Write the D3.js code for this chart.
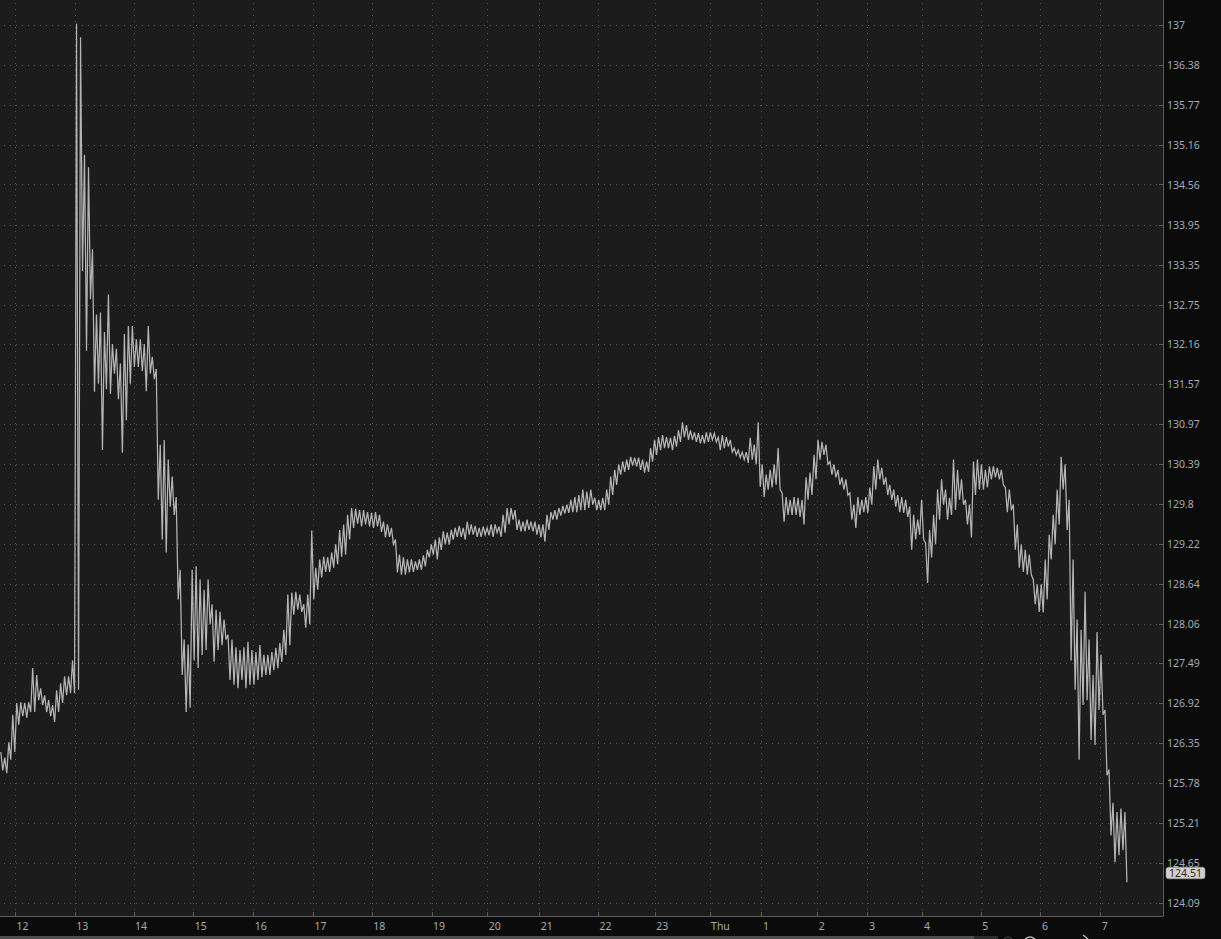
<!DOCTYPE html>
<html>
<head>
<meta charset="utf-8">
<script src="https://cdn.jsdelivr.net/npm/d3@7"></script>
<style>
html,body{margin:0;padding:0;background:#0b0b0b;overflow:hidden;}
svg{display:block;}
</style>
</head>
<body>
<svg id="chart" width="1221" height="939"></svg>
<script>
// ---- DATA (per 4px time slot: high / low price) ----
const high = [
126.22,126.14,126.36,126.75,126.92,126.93,126.92,126.93,127.42,127.32,
127.13,127.03,126.96,126.89,127.10,127.20,127.30,127.30,127.53,137.02,
136.81,135.01,134.82,133.58,132.60,132.63,132.34,132.90,132.16,132.09,
131.87,132.31,132.43,132.43,132.23,132.23,132.16,132.43,131.97,131.79,
130.67,130.74,130.45,130.20,129.90,128.84,127.83,127.76,128.84,128.89,
128.70,128.55,128.70,128.34,128.26,128.23,128.12,127.90,127.83,127.72,
127.68,127.72,127.80,127.68,127.65,127.75,127.61,127.61,127.65,127.71,
127.78,127.97,128.48,128.51,128.52,128.48,128.34,128.48,129.41,128.87,
128.99,129.03,129.02,129.09,129.21,129.42,129.50,129.64,129.74,129.73,
129.71,129.71,129.68,129.67,129.68,129.64,129.54,129.50,129.45,129.28,
129.06,129.02,128.99,128.99,128.96,128.99,129.05,129.13,129.21,129.28,
129.31,129.40,129.38,129.42,129.45,129.48,129.45,129.54,129.50,129.48,
129.45,129.47,129.45,129.50,129.50,129.47,129.64,129.74,129.74,129.71,
129.57,129.54,129.57,129.54,129.54,129.50,129.50,129.64,129.68,129.71,
129.74,129.77,129.79,129.86,129.90,129.93,130.01,129.98,130.01,129.89,
129.86,129.89,130.01,130.20,130.30,130.38,130.42,130.45,130.49,130.48,
130.48,130.45,130.42,130.62,130.74,130.78,130.81,130.78,130.77,130.80,
130.88,131.00,130.96,130.88,130.85,130.84,130.81,130.85,130.85,130.84,
130.78,130.81,130.78,130.74,130.62,130.59,130.56,130.56,130.77,130.67,
131.00,130.38,130.23,130.30,130.38,130.62,129.96,129.90,129.86,129.90,
129.89,129.86,130.19,130.26,130.52,130.74,130.71,130.67,130.42,130.38,
130.30,130.19,130.16,129.96,129.79,129.90,129.86,129.90,130.04,130.35,
130.45,130.33,130.19,130.08,130.01,129.93,129.90,129.86,129.76,129.64,
129.57,129.86,129.23,129.42,129.64,130.01,130.16,130.01,129.89,130.45,
130.30,130.16,129.86,129.79,130.42,130.45,130.38,130.30,130.35,130.35,
130.33,130.30,130.04,130.01,129.79,129.50,129.21,129.13,129.06,128.70,
128.63,128.63,128.99,129.35,129.64,130.01,130.49,130.38,129.86,128.99,
128.12,127.97,128.52,127.83,127.32,127.94,127.61,126.82,125.97,125.50,
125.37,125.42,125.37
];
const low = [
125.96,125.92,126.11,126.22,126.61,126.73,126.71,126.79,126.79,126.96,
126.89,126.79,126.73,126.65,126.79,126.92,127.03,127.06,127.06,127.11,
133.25,132.06,132.83,131.45,131.57,130.59,131.49,131.42,131.72,131.34,
130.55,131.03,131.57,131.82,131.82,131.76,131.46,131.72,131.64,129.86,
129.28,129.09,129.76,129.64,128.41,127.32,126.79,126.85,127.53,127.42,
127.61,127.68,128.05,127.51,127.68,127.75,127.83,127.25,127.18,127.13,
127.25,127.13,127.18,127.18,127.25,127.29,127.32,127.32,127.39,127.42,
127.51,127.61,127.75,128.19,128.26,128.23,128.00,128.05,128.41,128.55,
128.73,128.81,128.81,128.87,128.92,129.03,129.06,129.28,129.45,129.51,
129.47,129.50,129.47,129.45,129.47,129.39,129.31,129.32,129.21,128.80,
128.77,128.77,128.80,128.81,128.84,128.84,128.89,129.02,129.06,128.99,
129.13,129.21,129.21,129.28,129.32,129.32,129.28,129.35,129.35,129.32,
129.32,129.35,129.34,129.32,129.38,129.32,129.38,129.50,129.57,129.42,
129.40,129.40,129.42,129.40,129.35,129.31,129.25,129.42,129.57,129.57,
129.63,129.66,129.67,129.68,129.68,129.71,129.71,129.74,129.79,129.71,
129.71,129.71,129.79,129.93,130.08,130.23,130.27,130.30,130.36,130.35,
130.30,130.26,130.27,130.42,130.52,130.59,130.62,130.62,130.59,130.64,
130.71,130.78,130.74,130.74,130.71,130.69,130.69,130.71,130.74,130.71,
130.59,130.62,130.64,130.56,130.52,130.48,130.45,130.40,130.45,130.38,
130.05,129.90,130.01,130.04,130.08,130.01,129.54,129.64,129.64,129.64,
129.61,129.50,129.86,129.93,130.16,130.45,130.52,130.38,130.23,130.19,
130.08,130.01,129.93,129.57,129.45,129.64,129.68,129.67,129.79,130.01,
130.16,130.08,129.93,129.86,129.76,129.68,129.67,129.61,129.13,129.28,
129.35,129.28,128.65,129.02,129.21,129.57,129.79,129.57,129.64,129.71,
129.86,129.79,129.50,129.31,129.93,130.01,130.01,130.04,130.16,130.19,
130.16,130.08,129.68,129.71,129.13,128.87,128.81,128.77,128.77,128.34,
128.23,128.22,128.41,128.99,129.21,129.50,130.01,129.42,127.53,127.11,
126.11,126.89,126.96,126.39,126.32,126.82,126.75,125.89,125.04,124.66,
124.76,124.83,124.38
];
const yTickValues = [137,136.38,135.77,135.16,134.56,133.95,133.35,132.75,132.16,131.57,130.97,130.39,129.8,129.22,128.64,128.06,127.49,126.92,126.35,125.78,125.21,124.65,124.09];
const xTickLabels = ["12","13","14","15","16","17","18","19","20","21","22","23","Thu","1","2","3","4","5","6","7"];
const xTickSlots  = [3.75,18.75,33.5,48.5,63.5,78.5,93.25,108.25,122.25,135.25,150,164.25,178,191,205,217.6,231.4,246,261,276];
const lastPrice = 124.51;
const priceMin = 124.09, priceMax = 137;
const rightPadSlots = 8.75;

// ---- LAYOUT ----
const W = 1221, H = 939;
const plotRight = 1163, plotBottom = 916;
const yTop = 25, yBottom = 903;
const svg = d3.select("#chart");

svg.append("rect").attr("x",0).attr("y",0).attr("width",W).attr("height",H).attr("fill","#0b0b0b");
svg.append("rect").attr("x",0).attr("y",0).attr("width",plotRight).attr("height",plotBottom).attr("fill","#1c1c1c");

const x = d3.scaleLinear().domain([0, high.length + rightPadSlots]).range([0, plotRight]);
const y = d3.scaleLog().domain([priceMin, priceMax]).range([yBottom, yTop]);

// grid
const grid = svg.append("g").attr("stroke","#575757").attr("stroke-width",1).attr("stroke-dasharray","1,5").attr("shape-rendering","crispEdges");
grid.selectAll("line.h").data(yTickValues).join("line")
  .attr("x1",4).attr("x2",plotRight).attr("y1",d=>Math.round(y(d))+0.5).attr("y2",d=>Math.round(y(d))+0.5);
grid.selectAll("line.v").data(xTickSlots).join("line")
  .attr("x1",d=>Math.round(x(d))+0.5).attr("x2",d=>Math.round(x(d))+0.5).attr("y1",3).attr("y2",plotBottom);

// price series: zig-zag through high/low of each slot
const pts = [];
high.forEach((h,i)=>{
  pts.push([x(i)+0.8, y(h)]);
  pts.push([x(i)+2.8, y(low[i])]);
});
svg.append("path").attr("d", d3.line()(pts))
  .attr("fill","none").attr("stroke","#b4b4b4").attr("stroke-width",1.25).attr("stroke-linejoin","miter");

// axes
const axisCol = "#5c5c5c";
svg.append("line").attr("x1",plotRight+0.5).attr("x2",plotRight+0.5).attr("y1",0).attr("y2",plotBottom+0.5).attr("stroke",axisCol);
svg.append("line").attr("x1",0).attr("x2",plotRight+0.5).attr("y1",plotBottom+0.5).attr("y2",plotBottom+0.5).attr("stroke",axisCol);

const yAxis = d3.axisRight(y).tickValues(yTickValues).tickSize(0).tickFormat(d=>String(d));
const ya = svg.append("g").attr("transform",`translate(${plotRight},0)`).call(yAxis);
ya.select(".domain").remove();
ya.selectAll("text").attr("x",4).attr("fill","#a3abb4").attr("font-family","Noto Sans, Open Sans, sans-serif").attr("font-size","10.5px").attr("dy","0.35em");
svg.append("g").selectAll("line").data(yTickValues).join("line")
  .attr("x1",plotRight-4).attr("x2",plotRight).attr("y1",d=>Math.round(y(d))+0.5).attr("y2",d=>Math.round(y(d))+0.5).attr("stroke",axisCol);

const xa = svg.append("g");
xa.selectAll("line").data(xTickSlots).join("line")
  .attr("x1",d=>Math.round(x(d))+0.5).attr("x2",d=>Math.round(x(d))+0.5).attr("y1",plotBottom-4).attr("y2",plotBottom).attr("stroke",axisCol);
xa.selectAll("text").data(xTickSlots).join("text")
  .attr("x",d=>x(d)+1.5).attr("y",930).attr("fill","#a3abb4")
  .attr("font-family","Noto Sans, Open Sans, sans-serif").attr("font-size","10.5px")
  .text((d,i)=>xTickLabels[i]);

// last price marker
const ly = y(lastPrice);
svg.append("rect").attr("x",1166).attr("y",ly-5.8).attr("width",39).attr("height",11.6).attr("rx",2.5)
  .attr("fill","#cfcfcf").attr("stroke","#9a9a9a").attr("stroke-width",0.6);
svg.append("text").attr("x",1185.5).attr("y",ly).attr("dy","0.35em").attr("text-anchor","middle")
  .attr("font-family","Noto Sans, Open Sans, sans-serif").attr("font-size","10.5px").attr("fill","#2a2a2a").text(lastPrice.toFixed(2));

// bottom scrollbar strip
svg.append("rect").attr("x",0).attr("y",936).attr("width",974).attr("height",3).attr("fill","#4e4e4e");
svg.append("rect").attr("x",974).attr("y",936).attr("width",24).attr("height",3).attr("fill","#2c2c2c");
svg.append("circle").attr("cx",1008).attr("cy",941).attr("r",4).attr("fill","none").attr("stroke","#444").attr("stroke-width",1.2);
svg.append("circle").attr("cx",1030).attr("cy",943).attr("r",6).attr("fill","none").attr("stroke","#bbb").attr("stroke-width",1.4);
svg.append("path").attr("d","M1083,935 L1088,939").attr("stroke","#bbb").attr("stroke-width",1.4);
</script>
</body>
</html>
